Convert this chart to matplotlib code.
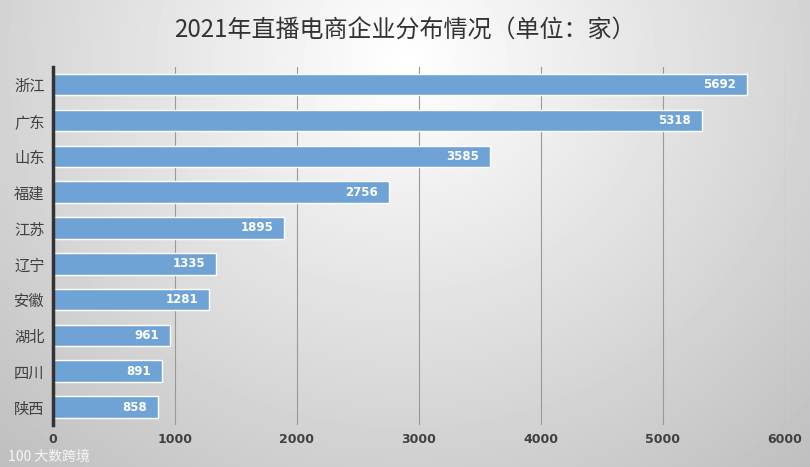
import matplotlib
matplotlib.use("Agg")
import matplotlib.pyplot as plt
import numpy as np

plt.rcParams['font.family'] = ['Noto Sans CJK SC', 'DejaVu Sans']

provinces = ["浙江", "广东", "山东", "福建", "江苏", "辽宁", "安徽", "湖北", "四川", "陕西"]
counts = [5692, 5318, 3585, 2756, 1895, 1335, 1281, 961, 891, 858]
xticks = [0, 1000, 2000, 3000, 4000, 5000, 6000]
title = "2021年直播电商企业分布情况（单位：家）"

fig = plt.figure(figsize=(8.1, 4.67), dpi=100)

# radial gradient background
bg = fig.add_axes([0, 0, 1, 1], zorder=-10)
yy, xx = np.mgrid[0:467, 0:810]
r = np.sqrt(((xx - 405) / 520.0) ** 2 + ((yy - 60) / 480.0) ** 2)
val = 1.0 - 0.22 * np.clip(r, 0, 1.2)
bg.imshow(val, cmap='gray', vmin=0, vmax=1, aspect='auto', extent=[0, 1, 0, 1])
bg.set_axis_off()

ax = fig.add_axes([0.0654, 0.09, 0.9036, 0.767])
ax.patch.set_alpha(0)
y = np.arange(len(provinces))
ax.barh(y, counts, height=0.6, color='#6FA3D6', edgecolor='white', linewidth=1.0, zorder=3)
ax.set_ylim(len(provinces) - 0.5, -0.5)
ax.set_xlim(0, 6000)
ax.set_yticks(y)
ax.set_yticklabels(provinces, fontsize=11, color='#404040')
ax.set_xticks(xticks)
ax.set_xticklabels([str(t) for t in xticks], fontsize=9, color='#404040', fontweight='bold', family='DejaVu Sans')
ax.tick_params(axis='both', length=0, pad=6)
ax.grid(axis='x', color='#999999', linewidth=0.8, zorder=1)
for s in ['top', 'right', 'bottom']:
    ax.spines[s].set_visible(False)
ax.spines['left'].set_color('#333333')
ax.spines['left'].set_linewidth(2.5)
ax.spines['left'].set_zorder(4)

for yi, c in zip(y, counts):
    ax.text(c - 90, yi, str(c), ha='right', va='center', color='white',
            fontsize=8.5, fontweight='bold', family='DejaVu Sans', zorder=5)

fig.text(0.5, 0.935, title, ha='center', va='center', fontsize=17.3, color='#333333')
fig.text(0.01, 0.022, "100 大数跨境", ha='left', va='center', fontsize=10, color='white', alpha=0.85)

fig.savefig("out.png", dpi=100)
